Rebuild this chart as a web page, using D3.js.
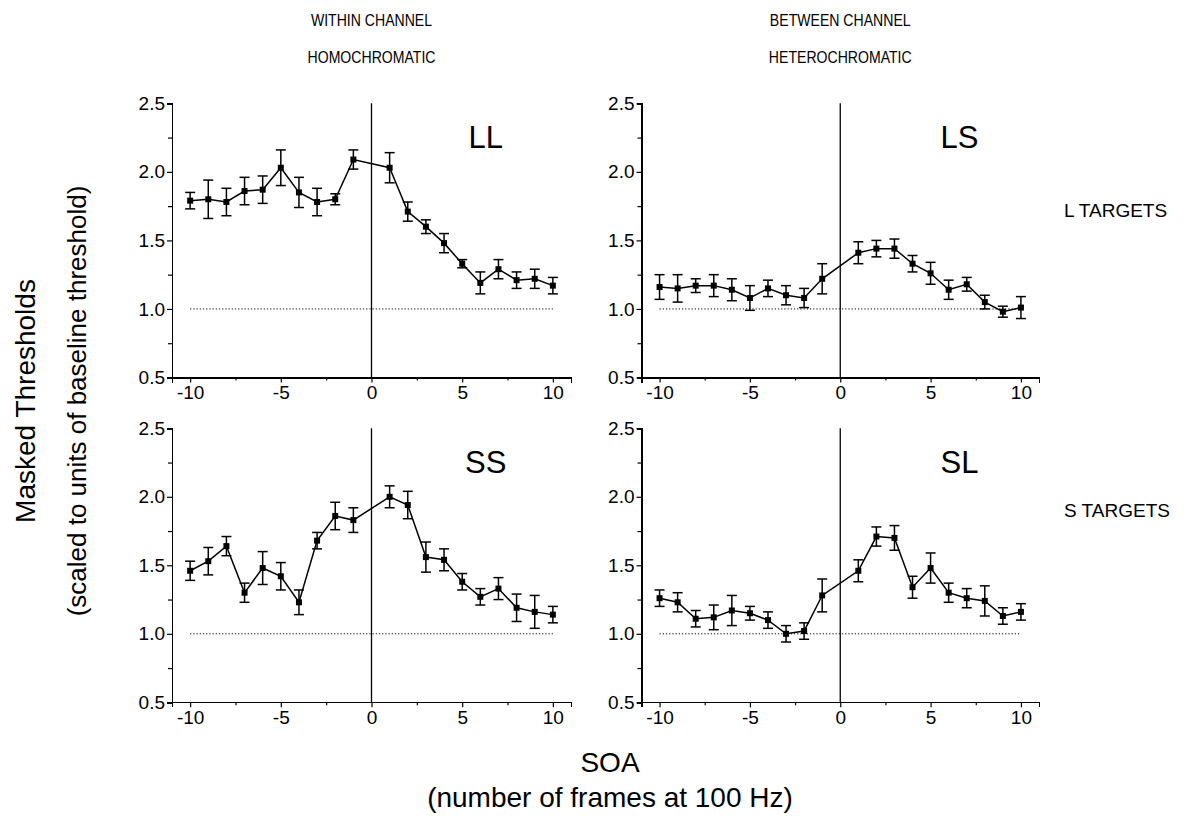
<!DOCTYPE html>
<html>
<head>
<meta charset="utf-8">
<script src="https://cdn.jsdelivr.net/npm/d3@7"></script>
<style>
	body { margin: 0; background: #fff; }
	svg text { font-family: "Liberation Sans", Arial, sans-serif; fill: #000; }
</style>
</head>
<body>
<svg id="chart" width="1191" height="820"></svg>
<script>
// SOA in frames (no point at 0)
const soa = [-10, -9, -8, -7, -6, -5, -4, -3, -2, -1, 1, 2, 3, 4, 5, 6, 7, 8, 9, 10];

// within channel, L targets
const llMean = [1.79, 1.80, 1.78, 1.86, 1.87, 2.03, 1.85, 1.78, 1.80, 2.09, 2.03, 1.71, 1.60, 1.48, 1.33, 1.19, 1.29, 1.21, 1.22, 1.17];
const llErr  = [0.06, 0.14, 0.10, 0.10, 0.10, 0.13, 0.11, 0.10, 0.04, 0.07, 0.11, 0.07, 0.05, 0.07, 0.03, 0.08, 0.07, 0.06, 0.07, 0.06];
// between channel, L targets
const lsMean = [1.16, 1.15, 1.17, 1.17, 1.14, 1.08, 1.15, 1.10, 1.08, 1.22, 1.41, 1.44, 1.44, 1.33, 1.26, 1.14, 1.18, 1.05, 0.98, 1.01];
const lsErr  = [0.09, 0.10, 0.05, 0.08, 0.08, 0.09, 0.06, 0.07, 0.07, 0.11, 0.08, 0.06, 0.07, 0.06, 0.08, 0.07, 0.05, 0.05, 0.04, 0.08];
// within channel, S targets
const ssMean = [1.46, 1.53, 1.64, 1.30, 1.48, 1.42, 1.23, 1.68, 1.86, 1.83, 2.00, 1.94, 1.56, 1.54, 1.38, 1.27, 1.33, 1.19, 1.16, 1.14];
const ssErr  = [0.07, 0.10, 0.07, 0.07, 0.12, 0.10, 0.09, 0.06, 0.10, 0.09, 0.08, 0.10, 0.11, 0.08, 0.06, 0.06, 0.08, 0.10, 0.12, 0.06];
// between channel, S targets
const slMean = [1.26, 1.23, 1.11, 1.12, 1.17, 1.15, 1.10, 1.00, 1.02, 1.28, 1.46, 1.71, 1.70, 1.34, 1.48, 1.30, 1.26, 1.24, 1.13, 1.16];
const slErr  = [0.06, 0.07, 0.06, 0.09, 0.11, 0.05, 0.06, 0.06, 0.06, 0.12, 0.08, 0.07, 0.09, 0.08, 0.11, 0.07, 0.07, 0.11, 0.06, 0.06];

const panelNames = ["LL", "LS", "SS", "SL"];
const columnTitles = [["WITHIN CHANNEL", "HOMOCHROMATIC"], ["BETWEEN CHANNEL", "HETEROCHROMATIC"]];
const rowTitles = ["L TARGETS", "S TARGETS"];
const yTicks = [0.5, 1.0, 1.5, 2.0, 2.5];
const xTicks = [-10, -5, 0, 5, 10];

const svg = d3.select("#chart");

// column / row scales
const xScales = [
	d3.scaleLinear().domain([-11, 11]).range([172, 571]),
	d3.scaleLinear().domain([-11, 11]).range([641.5, 1039])
];
const yScales = [
	d3.scaleLinear().domain([0.5, 2.5]).range([377.5, 103.3]),
	d3.scaleLinear().domain([0.5, 2.5]).range([702.3, 428.3])
];

const panels = [
	{name: panelNames[0], mean: llMean, err: llErr, col: 0, row: 0},
	{name: panelNames[1], mean: lsMean, err: lsErr, col: 1, row: 0},
	{name: panelNames[2], mean: ssMean, err: ssErr, col: 0, row: 1},
	{name: panelNames[3], mean: slMean, err: slErr, col: 1, row: 1}
];

panels.forEach(p => {
	const x = xScales[p.col], y = yScales[p.row];
	const g = svg.append("g");
	const pts = soa.map((s, i) => ({s: s, m: p.mean[i], e: p.err[i]}));

	// axes
	const yMinor = g.append("g")
		.attr("transform", `translate(${x.range()[0]},0)`)
		.call(d3.axisLeft(y).tickValues(d3.range(0.75, 2.5, 0.5)).tickSize(4).tickFormat(""));
	const yAx = g.append("g")
		.attr("transform", `translate(${x.range()[0]},0)`)
		.call(d3.axisLeft(y).tickValues(yTicks).tickSize(5).tickPadding(2).tickFormat(d3.format(".1f")));
	const xMinor = g.append("g")
		.attr("transform", `translate(0,${y.range()[0]})`)
		.call(d3.axisBottom(x).tickValues([-7.5, -2.5, 2.5, 7.5]).tickSize(3).tickFormat(""));
	const xAx = g.append("g")
		.attr("transform", `translate(0,${y.range()[0]})`)
		.call(d3.axisBottom(x).tickValues(xTicks).tickSize(5).tickPadding(3).tickFormat(d3.format("d")));
	[yMinor, yAx, xMinor, xAx].forEach(a => {
		a.select(".domain").attr("stroke", "#000").attr("stroke-width", 1.4).attr("shape-rendering", "crispEdges");
		a.selectAll(".tick line").attr("stroke", "#000").attr("stroke-width", 1.2);
		a.selectAll("text").style("font-size", "19px").style("font-family", "Liberation Sans, Arial, sans-serif");
	});
	xAx.selectAll("text").text(d => d < 0 ? "-" + Math.abs(d) : d);

	// reference line at 1.0
	g.append("line")
		.attr("x1", x(-10)).attr("x2", x(10))
		.attr("y1", y(1)).attr("y2", y(1))
		.attr("stroke", "#000").attr("stroke-width", 1)
		.attr("stroke-dasharray", "1.2,2");

	// SOA = 0 line
	g.append("line")
		.attr("x1", x(0)).attr("x2", x(0))
		.attr("y1", y(2.5)).attr("y2", y(0.5))
		.attr("stroke", "#000").attr("stroke-width", 1.3);

	// error bars
	const eb = g.selectAll(".eb").data(pts).enter().append("g").attr("class", "eb");
	eb.append("line")
		.attr("x1", d => x(d.s)).attr("x2", d => x(d.s))
		.attr("y1", d => y(d.m - d.e)).attr("y2", d => y(d.m + d.e))
		.attr("stroke", "#000").attr("stroke-width", 1.5);
	[1, -1].forEach(k => {
		eb.append("line")
			.attr("x1", d => x(d.s) - 5).attr("x2", d => x(d.s) + 5)
			.attr("y1", d => y(d.m + k * d.e)).attr("y2", d => y(d.m + k * d.e))
			.attr("stroke", "#000").attr("stroke-width", 1.5);
	});

	// connecting line
	g.append("path")
		.datum(pts)
		.attr("fill", "none").attr("stroke", "#000").attr("stroke-width", 1.5)
		.attr("d", d3.line().x(d => x(d.s)).y(d => y(d.m)));

	// markers
	g.selectAll(".mk").data(pts).enter().append("rect")
		.attr("x", d => x(d.s) - 3).attr("y", d => y(d.m) - 3)
		.attr("width", 6).attr("height", 6).attr("fill", "#000");

	// panel label
	g.append("text")
		.attr("x", x(p.col === 0 ? 6.3 : 6.6)).attr("y", y(2.25))
		.attr("text-anchor", "middle").attr("dominant-baseline", "central")
		.style("font-size", "31px")
		.text(p.name);
});

// column headers (slightly condensed type)
columnTitles.forEach((t, i) => {
	const cx = xScales[i](0);
	[20, 57].forEach((ty, j) => {
		svg.append("text")
			.attr("transform", `translate(${cx},${ty}) scale(0.88,1)`)
			.attr("text-anchor", "middle").attr("dominant-baseline", "central")
			.style("font-size", "16px").text(t[j]);
	});
});

// row labels
rowTitles.forEach((t, i) => {
	svg.append("text").attr("x", 1064).attr("y", i === 0 ? 210 : 510)
		.attr("dominant-baseline", "central").style("font-size", "19px").text(t);
});

// y title
svg.append("text")
	.attr("transform", "translate(25,401) rotate(-90)")
	.attr("text-anchor", "middle").attr("dominant-baseline", "central")
	.style("font-size", "28px").text("Masked Thresholds");
svg.append("text")
	.attr("transform", "translate(77,401) rotate(-90)")
	.attr("text-anchor", "middle").attr("dominant-baseline", "central")
	.style("font-size", "26px").text("(scaled to units of baseline threshold)");

// x title
svg.append("text").attr("x", 610).attr("y", 762)
	.attr("text-anchor", "middle").attr("dominant-baseline", "central")
	.style("font-size", "28px").text("SOA");
svg.append("text").attr("x", 610).attr("y", 797)
	.attr("text-anchor", "middle").attr("dominant-baseline", "central")
	.style("font-size", "28px").text("(number of frames at 100 Hz)");
</script>
</body>
</html>
